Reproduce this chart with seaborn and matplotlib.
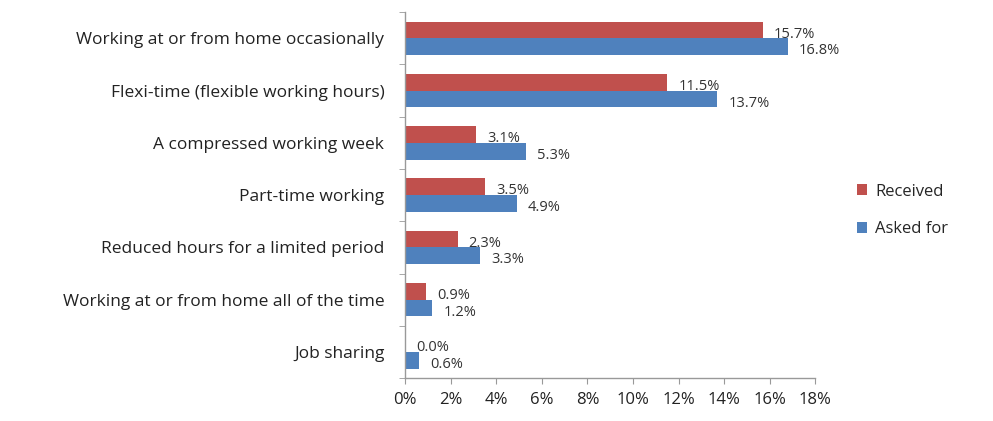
import pandas as pd
import seaborn as sns
import matplotlib.pyplot as plt
from matplotlib.ticker import FuncFormatter, FixedLocator

# Data
categories = ['Working at or from home occasionally',
              'Flexi-time (flexible working hours)',
              'A compressed working week',
              'Part-time working',
              'Reduced hours for a limited period',
              'Working at or from home all of the time',
              'Job sharing']
received = [15.7, 11.5, 3.1, 3.5, 2.3, 0.9, 0.0]
asked_for = [16.8, 13.7, 5.3, 4.9, 3.3, 1.2, 0.6]
series = ['Received', 'Asked for']
colors = ['#c0504d', '#4f81bd']

df = pd.DataFrame({
    'category': categories * 2,
    'series': ['Received'] * len(categories) + ['Asked for'] * len(categories),
    'value': received + asked_for,
})

sns.set_style('white')
plt.rcParams['font.family'] = ['Open Sans', 'DejaVu Sans']

fig = plt.figure(figsize=(9.93, 4.21), dpi=100)
ax = fig.add_axes([0.408, 0.102, 0.413, 0.869])

sns.barplot(data=df, y='category', x='value', hue='series', hue_order=series,
            order=categories, palette=colors, width=0.64, saturation=1,
            linewidth=0, orient='h', ax=ax, legend=True)

# value labels, nudged a bit below the bar centre like the original
for cont in ax.containers:
    labels = ['%.1f%%' % v for v in cont.datavalues]
    texts = ax.bar_label(cont, labels=labels, padding=8, fontsize=10.5, color='#333333')
    for t in texts:
        t.xyann = (8, -3)

ax.set_xlim(0, 18)
ax.set_xticks(range(0, 19, 2))
ax.xaxis.set_major_formatter(FuncFormatter(lambda v, p: '%d%%' % v))
ax.set_xlabel('')
ax.set_ylabel('')
ax.tick_params(axis='x', labelsize=12, colors='#222222', length=4, color='#999999', direction='out', bottom=True, pad=6)
ax.tick_params(axis='y', labelsize=12.5, colors='#222222', length=0, pad=15)
ax.yaxis.set_minor_locator(FixedLocator([i - 0.5 for i in range(len(categories) + 1)]))
ax.tick_params(axis='y', which='minor', length=4, color='#999999', left=True)

for s in ['top', 'right']:
    ax.spines[s].set_visible(False)
for s in ['left', 'bottom']:
    ax.spines[s].set_color('#999999')
    ax.spines[s].set_linewidth(1)
ax.set_ylim(len(categories) - 0.5, -0.5)

ax.legend(loc='center left', bbox_to_anchor=(0.848, 0.5), bbox_transform=fig.transFigure,
          frameon=False, fontsize=12, handlelength=0.6, handleheight=0.6,
          labelspacing=1.3, handletextpad=0.5)

fig.savefig('out.png', dpi=100)
